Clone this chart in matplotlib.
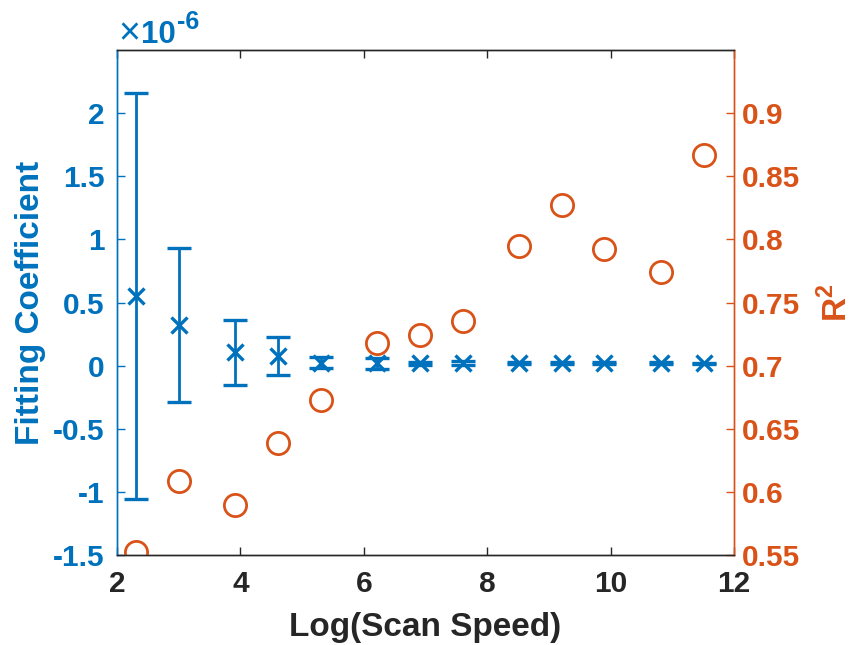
import matplotlib
matplotlib.use('Agg')
from matplotlib import pyplot as plt
from matplotlib.ticker import FuncFormatter

plt.rcParams['font.family'] = ['Liberation Sans', 'DejaVu Sans']
plt.rcParams['font.weight'] = 'bold'
plt.rcParams['mathtext.fontset'] = 'custom'
plt.rcParams['mathtext.bf'] = 'Liberation Sans:bold'
plt.rcParams['mathtext.rm'] = 'Liberation Sans'

blue = '#0072BD'
orange = '#D95319'
dark = '#262626'

# log of scan speed
log_speed = [2.30, 3.00, 3.91, 4.61, 5.30, 6.21, 6.91, 7.60, 8.52, 9.21, 9.90, 10.82, 11.51]
# fitting coefficient, in units of 1e-6
coef = [0.55, 0.325, 0.105, 0.076, 0.024, 0.018, 0.018, 0.018, 0.017, 0.018, 0.017, 0.017, 0.017]
coef_err = [1.61, 0.61, 0.26, 0.148, 0.042, 0.045, 0.012, 0.016, 0.008, 0.008, 0.008, 0.008, 0.004]
# R squared
r2 = [0.552, 0.609, 0.590, 0.639, 0.673, 0.718, 0.724, 0.735, 0.795, 0.827, 0.792, 0.774, 0.867]

W, H = 857, 645
fig = plt.figure(figsize=(W / 100, H / 100), dpi=100)
ax = fig.add_axes([117/W, 1 - 555/H, (734 - 117)/W, (555 - 50)/H])
ax2 = ax.twinx()

ax.errorbar(log_speed, coef, yerr=coef_err, fmt='x', color=blue, ecolor=blue,
            markersize=11, mew=2.4, elinewidth=2, capsize=8.5, capthick=2.2)
ax2.plot(log_speed, r2, 'o', color=orange, markerfacecolor='none', markersize=16, mew=2)

ax.set_xlim(2, 12)
ax.set_ylim(-1.5, 2.5)
ax2.set_ylim(0.55, 0.95)
ax.set_xticks([2, 4, 6, 8, 10, 12])
ax.set_yticks([-1.5, -1, -0.5, 0, 0.5, 1, 1.5, 2])
ax2.set_yticks([0.55, 0.6, 0.65, 0.7, 0.75, 0.8, 0.85, 0.9])

fmt = FuncFormatter(lambda v, p: '%g' % round(v, 4))
ax.yaxis.set_major_formatter(fmt)
ax2.yaxis.set_major_formatter(fmt)

ax.tick_params(axis='x', direction='in', length=6, width=1, colors=dark, labelsize=21.5,
               top=True, pad=11)
ax.tick_params(axis='y', direction='in', length=6, width=1, colors=blue, labelsize=21.5, pad=9)
ax2.tick_params(axis='y', direction='in', length=6, width=1, colors=orange, labelsize=21.5, pad=6)

for a in (ax, ax2):
    a.spines['top'].set_color(dark)
    a.spines['bottom'].set_color(dark)
    a.spines['left'].set_color(blue)
    a.spines['right'].set_color(orange)
    for s in a.spines.values():
        s.set_linewidth(1)

ax.set_xlabel('Log(Scan Speed)', color=dark, fontsize=24, fontweight='bold')
ax.set_ylabel('Fitting Coefficient', color=blue, fontsize=24, fontweight='bold')
ax2.set_ylabel('R$^\\mathbf{2}$', color=orange, fontsize=24, fontweight='bold')
ax.xaxis.set_label_coords(0.5, (555 - 612) / 505)
ax.yaxis.set_label_coords((46 - 117) / 617, 0.5)
ax2.yaxis.set_label_coords((819 - 117) / 617, 0.5)

# MATLAB style exponent above the left axis
fig.text(118/W, 1 - 44/H, '\u00d7', fontsize=27, fontweight='normal', color=blue, va='baseline')
fig.text(141/W, 1 - 43/H, '10', fontsize=22.5, color=blue, va='baseline')
fig.text(177/W, 1 - 29/H, '-6', fontsize=18, color=blue, va='baseline')

fig.savefig('out.png', dpi=100)
